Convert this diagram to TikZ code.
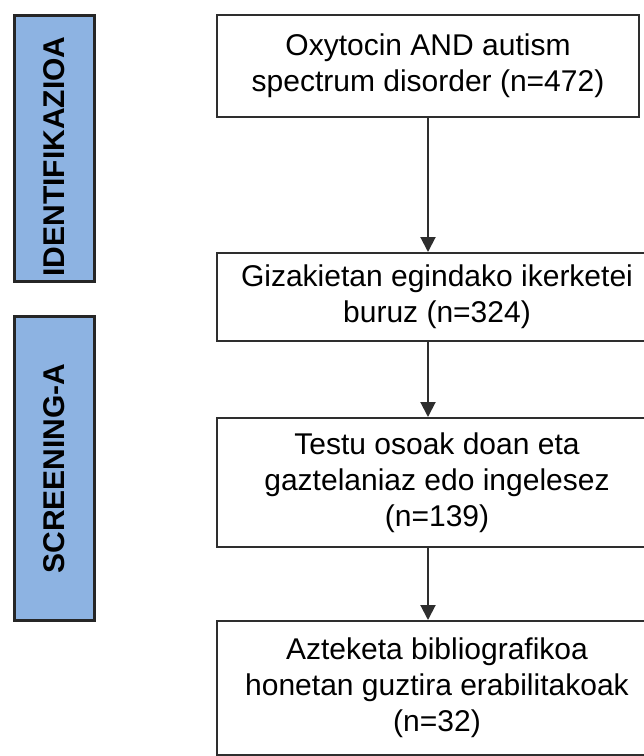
\documentclass[tikz,border=0pt]{standalone}
\usepackage{fontspec}
\setmainfont{Liberation Sans}
\usetikzlibrary{arrows.meta}
\definecolor{StageBlue}{HTML}{8DB3E2}
\colorlet{LineGray}{black!82}

\begin{document}
\begin{tikzpicture}[x=1pt, y=-1pt, >={Triangle[length=15pt,width=15pt]},
	stepbox/.style={draw=LineGray, line width=2pt, fill=white, inner sep=0pt,
		align=center, font=\fontsize{30}{36}\selectfont},
	stagebox/.style={draw=black!85, line width=3pt, fill=StageBlue, rotate=90,
		inner sep=0pt, minimum height=80pt, font=\fontsize{30}{35}\selectfont\bfseries},
	flow/.style={->, line width=2pt, LineGray}]
	
	\useasboundingbox (0,0) rectangle (644,756);
	\clip (0,0) rectangle (644,756);
	
	% -- Stages (left column) ------------------------------------
	\node[stagebox, minimum width=266pt] (ident) at (54.5,148.5)
	{IDENTIFIKAZIOA\hspace*{16pt}};
	\node[stagebox, minimum width=304pt] (screen) at (54.5,468.5) {SCREENING-A};
	
	% -- Flow boxes ----------------------------------------------
	\node[stepbox, minimum width=422pt, minimum height=102pt] (search) at (428,66)
	{Oxytocin AND autism\\spectrum disorder (n=472)};
	\node[stepbox, minimum width=440pt, minimum height=88pt] (human) at (437,297)
	{Gizakietan egindako ikerketei\\buruz (n=324)};
	\node[stepbox, minimum width=440pt, minimum height=129pt] (fulltext) at (437,482.5)
	{Testu osoak doan eta\\gaztelaniaz edo ingelesez\\(n=139)};
	\node[stepbox, minimum width=440pt, minimum height=134pt] (final) at (437,688)
	{Azteketa bibliografikoa\\honetan guztira erabilitakoak\\(n=32)};
	
	% -- Arrows --------------------------------------------------
	\draw[flow] (search.south) -- (search.south |- human.north);
	\draw[flow] (search.south |- human.south) -- (search.south |- fulltext.north);
	\draw[flow] (search.south |- fulltext.south) -- (search.south |- final.north);
	
\end{tikzpicture}
\end{document}
